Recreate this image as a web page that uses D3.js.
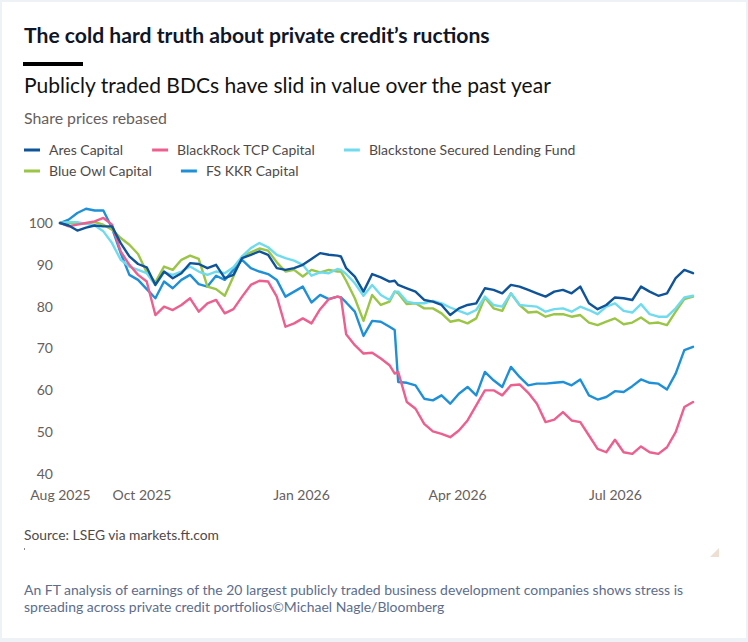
<!DOCTYPE html>
<html>

<head>
    <meta charset="utf-8">
    <title>BDC share prices</title>
    <style>
    body {
        margin: 0;
        background: #eef2f6;
    }

    svg#chart {
        display: block;
    }

    svg#chart text {
        font-family: Lato, "Open Sans", sans-serif;
    }

    .axis text {
        fill: #66605c;
        font-size: 14px;
    }

    .axis path.domain {
        display: none;
    }

    path.series {
        fill: none;
        stroke-width: 2.4px;
        stroke-linejoin: round;
        stroke-linecap: round;
    }
    </style>
</head>

<body>
    <svg id="chart"></svg>
    <script src="https://cdn.jsdelivr.net/npm/d3@7"></script>
    <script>
    // share prices rebased to 100, sampled every 5 days (plus the days either side of the two big drops)
    var dates = [
        "2025-08-15", "2025-08-20", "2025-08-25", "2025-08-30", "2025-09-04", "2025-09-09", "2025-09-14", "2025-09-19", "2025-09-24", "2025-09-29",
        "2025-10-04", "2025-10-09", "2025-10-14", "2025-10-19", "2025-10-24", "2025-10-29", "2025-11-03", "2025-11-08", "2025-11-13", "2025-11-18",
        "2025-11-23", "2025-11-28", "2025-12-03", "2025-12-08", "2025-12-13", "2025-12-18", "2025-12-23", "2025-12-28", "2026-01-02", "2026-01-07",
        "2026-01-12", "2026-01-17", "2026-01-22", "2026-01-24", "2026-01-27", "2026-02-01", "2026-02-06", "2026-02-11", "2026-02-16", "2026-02-21",
        "2026-02-24", "2026-02-26",
        "2026-03-03", "2026-03-08", "2026-03-13", "2026-03-18", "2026-03-23", "2026-03-28", "2026-04-02", "2026-04-07", "2026-04-12", "2026-04-17",
        "2026-04-22", "2026-04-27", "2026-05-02", "2026-05-07", "2026-05-12", "2026-05-17", "2026-05-22", "2026-05-27", "2026-06-01", "2026-06-06",
        "2026-06-11", "2026-06-16", "2026-06-21", "2026-06-26", "2026-07-01", "2026-07-06", "2026-07-11", "2026-07-16", "2026-07-21", "2026-07-26",
        "2026-07-31", "2026-08-05", "2026-08-10", "2026-08-15"
    ];

    var aresCapital = [
        100, 99.4, 98.2, 98.9, 99.4, 99.2, 99.2, 95.2, 92.0, 90.2,
        89.4, 85.2, 88.4, 86.8, 88.0, 90.4, 90.2, 89.2, 90.0, 86.8,
        87.6, 91.6, 92.4, 93.2, 92.4, 89.2, 88.8, 89.2, 90.0, 91.4,
        92.8, 92.4, 92.2, 92.0, 89.2, 87.2, 83.6, 87.8, 87.0, 86.0,
        86.2, 85.2,
        84.4, 83.6, 81.6, 81.2, 80.4, 78.0, 79.6, 80.4, 80.8, 84.4,
        84.0, 83.2, 85.2, 84.8, 84.0, 83.2, 82.4, 83.6, 84.0, 83.2,
        84.8, 80.8, 79.4, 80.4, 82.2, 82.0, 81.6, 84.8, 83.6, 82.6,
        83.2, 86.8, 88.8, 88.0
    ];

    var blackrockTcp = [
        100, 99.2, 99.6, 100.0, 100.4, 101.2, 99.6, 93.2, 90.0, 87.6,
        86.0, 78.0, 80.0, 79.2, 80.4, 82.0, 78.8, 80.8, 81.6, 78.4,
        79.4, 82.4, 85.2, 86.2, 86.0, 82.4, 75.2, 76.0, 77.2, 76.0,
        79.4, 81.8, 82.4, 82.2, 73.4, 70.8, 68.8, 69.0, 67.6, 66.0,
        64.0, 64.4,
        57.2, 55.6, 52.0, 50.2, 49.6, 48.8, 50.4, 52.8, 56.4, 60.0,
        60.0, 58.8, 61.2, 61.4, 59.4, 56.8, 52.4, 53.0, 54.8, 52.8,
        52.4, 49.2, 46.0, 45.2, 48.2, 45.2, 44.8, 46.6, 45.2, 44.8,
        46.4, 50.0, 56.0, 57.2
    ];

    var blackstoneSecured = [
        100, 100.2, 100.2, 99.8, 99.4, 98.0, 95.2, 91.2, 89.6, 88.8,
        88.0, 85.2, 88.2, 87.6, 88.4, 89.6, 88.4, 87.6, 88.4, 88.0,
        89.4, 92.0, 94.0, 95.2, 94.2, 92.4, 91.6, 91.0, 90.0, 87.4,
        88.2, 88.0, 89.0, 88.8, 87.8, 85.6, 82.6, 85.2, 82.8, 81.6,
        83.6, 83.6,
        81.2, 80.8, 80.8, 81.4, 80.8, 79.8, 79.0, 78.2, 79.2, 82.4,
        80.4, 80.0, 83.2, 80.4, 80.2, 80.0, 78.8, 79.4, 79.6, 78.8,
        80.0, 79.2, 78.2, 80.0, 80.8, 79.0, 78.6, 80.6, 78.2, 77.6,
        77.6, 79.6, 82.2, 82.6
    ];

    var blueOwl = [
        100, 100.0, 99.8, 99.8, 100.2, 99.6, 98.4, 96.4, 94.8, 92.6,
        88.2, 85.8, 89.6, 88.8, 91.2, 92.2, 91.4, 84.8, 84.2, 82.6,
        87.2, 92.0, 93.0, 93.9, 93.4, 90.6, 88.4, 88.8, 87.2, 88.8,
        88.2, 88.8, 88.4, 88.4, 86.2, 82.0, 76.6, 82.8, 80.4, 81.2,
        83.6, 83.2,
        80.6, 80.8, 79.6, 79.6, 78.4, 76.4, 76.8, 76.0, 77.2, 82.2,
        79.6, 79.0, 83.2, 80.4, 78.6, 78.8, 77.6, 78.2, 78.2, 77.6,
        78.0, 76.2, 75.6, 76.4, 77.2, 75.8, 76.2, 77.4, 76.0, 76.2,
        75.6, 78.8, 81.8, 82.4
    ];

    var fsKkr = [
        100, 100.8, 102.4, 103.4, 103.0, 103.0, 98.8, 92.8, 87.6, 86.4,
        84.2, 82.0, 86.0, 84.4, 86.4, 87.6, 85.4, 84.8, 87.4, 86.4,
        88.8, 91.2, 89.2, 88.4, 87.8, 86.4, 82.4, 83.6, 84.8, 81.0,
        82.8, 81.8, 82.4, 82.2, 81.0, 78.8, 73.0, 76.6, 76.4, 75.2,
        74.4, 62.0,
        61.8, 61.2, 58.0, 57.6, 58.8, 56.8, 59.2, 60.8, 58.8, 64.4,
        62.4, 60.8, 65.6, 63.2, 61.2, 61.6, 61.6, 61.8, 62.0, 61.2,
        62.6, 58.8, 57.8, 58.4, 59.8, 59.6, 61.0, 62.6, 61.8, 61.6,
        60.2, 64.0, 69.6, 70.4
    ];

    var seriesNames = ["Ares Capital", "BlackRock TCP Capital", "Blackstone Secured Lending Fund", "Blue Owl Capital", "FS KKR Capital"];
    var seriesValues = [aresCapital, blackrockTcp, blackstoneSecured, blueOwl, fsKkr];
    var seriesColors = ["#0f5499", "#ec5f8e", "#6fdbee", "#9ac545", "#1e90d8"];

    var yTicks = [40, 50, 60, 70, 80, 90, 100];
    var xTickDates = ["2025-08-15", "2025-10-01", "2026-01-01", "2026-04-01", "2026-07-01"];

    var W = 748, H = 642;
    var plot = { left: 60, right: 693, top100: 223, bottom40: 474 };

    var parse = d3.timeParse("%Y-%m-%d");

    var svg = d3.select("svg#chart").attr("width", W).attr("height", H);

    // card
    svg.append("rect")
        .attr("x", 2).attr("y", 2)
        .attr("width", W - 4).attr("height", H - 6)
        .attr("fill", "#fff");

    // scale a text so it spans a given width
    function fitWidth(sel, w) {
        var len = sel.node().getComputedTextLength();
        var fs = parseFloat(sel.attr("font-size"));
        sel.attr("font-size", (fs * w / len).toFixed(2));
    }

    var title = svg.append("text")
        .attr("x", 24).attr("y", 43)
        .attr("font-size", 20).attr("font-weight", 700)
        .attr("fill", "#0e1628")
        .text("The cold hard truth about private credit\u2019s ructions");
    fitWidth(title, 466);

    svg.append("rect")
        .attr("x", 23).attr("y", 62)
        .attr("width", 60).attr("height", 4)
        .attr("fill", "#000");

    var subtitle = svg.append("text")
        .attr("x", 24).attr("y", 93)
        .attr("font-size", 20)
        .attr("fill", "#111")
        .text("Publicly traded BDCs have slid in value over the past year");
    fitWidth(subtitle, 527);

    var units = svg.append("text")
        .attr("x", 24).attr("y", 124)
        .attr("font-size", 15)
        .attr("fill", "#66605c")
        .text("Share prices rebased");
    fitWidth(units, 143);

    // legend, flowing in rows of three
    var legend = svg.append("g").attr("class", "legend");
    var lx = 24, ly = 150, perRow = 3;
    seriesNames.forEach(function(name, i) {
        if (i > 0 && i % perRow == 0) { lx = 24; ly += 21; }
        var item = legend.append("g").attr("transform", "translate(" + lx + "," + ly + ")");
        item.append("line")
            .attr("x1", 0).attr("x2", 16)
            .attr("stroke", seriesColors[i]).attr("stroke-width", 3);
        var t = item.append("text")
            .attr("x", 25).attr("dy", "0.36em")
            .attr("font-size", 14)
            .attr("fill", "#4f4a47")
            .text(name);
        lx += 25 + t.node().getComputedTextLength() + 29;
    });

    var x = d3.scaleTime()
        .domain([parse(dates[0]), parse(dates[dates.length - 1])])
        .range([plot.left, plot.right]);

    var y = d3.scaleLinear()
        .domain([40, 100])
        .range([plot.bottom40, plot.top100]);

    svg.append("g")
        .attr("class", "axis axis--y")
        .attr("transform", "translate(" + plot.left + ",0)")
        .call(d3.axisLeft(y).tickValues(yTicks).tickSize(0).tickPadding(7));

    svg.append("g")
        .attr("class", "axis axis--x")
        .attr("transform", "translate(0," + 480 + ")")
        .call(d3.axisBottom(x)
            .tickValues(xTickDates.map(parse))
            .tickFormat(d3.timeFormat("%b %Y"))
            .tickSize(0).tickPadding(10));

    var line = d3.line()
        .x(function(d, i) { return x(parse(dates[i])); })
        .y(function(d) { return y(d); });

    // draw last series first so Ares sits on top
    var order = d3.range(seriesValues.length).reverse();
    svg.append("g").attr("class", "lines")
        .selectAll("path")
        .data(order)
        .enter()
        .append("path")
        .attr("class", "series")
        .attr("stroke", function(i) { return seriesColors[i]; })
        .attr("d", function(i) { return line(seriesValues[i]); });

    var source = svg.append("text")
        .attr("x", 24).attr("y", 540)
        .attr("font-size", 13)
        .attr("fill", "#4f4a47")
        .text("Source: LSEG via markets.ft.com");
    fitWidth(source, 195);

    svg.append("rect")
        .attr("x", 24).attr("y", 548)
        .attr("width", 1).attr("height", 2)
        .attr("fill", "#8a8580");

    svg.append("path")
        .attr("d", "M719,548L719,557L710,557Z")
        .attr("fill", "#eedfd2");

    var caption = [
        "An FT analysis of earnings of the 20 largest publicly traded business development companies shows stress is",
        "spreading across private credit portfolios\u00a9Michael Nagle/Bloomberg"
    ];
    var cap1 = svg.append("text")
        .attr("x", 24).attr("y", 595)
        .attr("font-size", 13)
        .attr("fill", "#5d6d8b")
        .text(caption[0]);
    fitWidth(cap1, 659);
    svg.append("text")
        .attr("x", 24).attr("y", 612)
        .attr("font-size", cap1.attr("font-size"))
        .attr("fill", "#5d6d8b")
        .text(caption[1]);
    </script>
</body>

</html>
